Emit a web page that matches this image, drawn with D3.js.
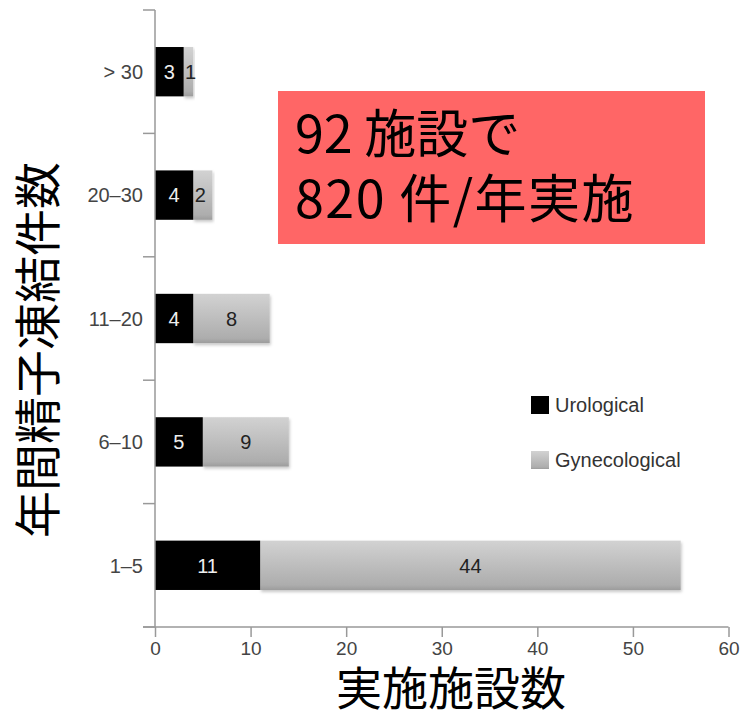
<!DOCTYPE html>
<html>
<head>
<meta charset="utf-8">
<script src="https://cdn.jsdelivr.net/npm/d3@7"></script>
<style>
  body { margin: 0; background: #fff; }
  svg { display: block; }
  .tick text { font-family: "Liberation Sans", Arial, sans-serif; }
</style>
</head>
<body>
<div id="chart"></div>
<script>
const categories = ["> 30", "20–30", "11–20", "6–10", "1–5"]
const urological = [3, 4, 4, 5, 11]
const gynecological = [1, 2, 8, 9, 44]
const seriesNames = ["Urological", "Gynecological"]
const xTicks = [0, 10, 20, 30, 40, 50, 60]

const width = 747, height = 717
const x0 = 155, x1 = 728.5, yTop = 10, yBottom = 627

const svg = d3.select("#chart").append("svg")
  .attr("width", width)
  .attr("height", height)

const defs = svg.append("defs")
const grad = defs.append("linearGradient")
  .attr("id", "gyn").attr("x1", 0).attr("y1", 0).attr("x2", 0).attr("y2", 1)
grad.append("stop").attr("offset", "0%").attr("stop-color", "#d2d2d2")
grad.append("stop").attr("offset", "90%").attr("stop-color", "#adadad")
grad.append("stop").attr("offset", "100%").attr("stop-color", "#9c9c9c")
const shadow = defs.append("filter").attr("id", "shadow")
  .attr("x", "-5%").attr("y", "-10%").attr("width", "115%").attr("height", "130%")
shadow.append("feDropShadow").attr("dx", 1).attr("dy", 2).attr("stdDeviation", 1.5)
  .attr("flood-color", "#000").attr("flood-opacity", 0.22)

const x = d3.scaleLinear().domain([0, 60]).range([x0, x1])
const y = d3.scaleBand().domain(categories).range([yTop, yBottom]).paddingInner(0.6).paddingOuter(0.3)

const rows = categories.map((c, i) => ({ cat: c, uro: urological[i], gyn: gynecological[i] }))
const labelFont = "20px 'Liberation Sans', Arial, sans-serif"

// bars
const g = svg.append("g")
g.selectAll("rect.gyn")
  .data(rows)
  .join("rect")
  .attr("class", "gyn")
  .attr("x", d => x(d.uro))
  .attr("y", d => y(d.cat))
  .attr("width", d => x(d.uro + d.gyn) - x(d.uro))
  .attr("height", y.bandwidth())
  .attr("fill", "url(#gyn)")
  .attr("filter", "url(#shadow)")
g.selectAll("rect.uro")
  .data(rows)
  .join("rect")
  .attr("class", "uro")
  .attr("x", x(0))
  .attr("y", d => y(d.cat))
  .attr("width", d => x(d.uro) - x(0))
  .attr("height", y.bandwidth())
  .attr("fill", "#000")

g.selectAll("text.uro")
  .data(rows)
  .join("text")
  .attr("x", d => (x(0) + x(d.uro)) / 2)
  .attr("y", d => y(d.cat) + y.bandwidth() / 2)
  .attr("dy", "0.36em")
  .attr("text-anchor", "middle")
  .attr("fill", "#eee")
  .style("font", labelFont)
  .text(d => d.uro)
g.selectAll("text.gyn")
  .data(rows)
  .join("text")
  .attr("x", d => d.gyn < 3 ? x(d.uro) + 7 : (x(d.uro) + x(d.uro + d.gyn)) / 2)
  .attr("y", d => y(d.cat) + y.bandwidth() / 2)
  .attr("dy", "0.36em")
  .attr("text-anchor", "middle")
  .attr("fill", "#222")
  .style("font", labelFont)
  .text(d => d.gyn)

// y axis
svg.append("line")
  .attr("x1", x0).attr("x2", x0).attr("y1", yTop).attr("y2", yBottom)
  .attr("stroke", "#999").attr("stroke-width", 1.5)
const bounds = categories.map(c => y(c) - y.step() * y.paddingInner() / 2)
bounds.push(yBottom)
svg.selectAll("line.ytick")
  .data(bounds)
  .join("line")
  .attr("x1", x0 - 12).attr("x2", x0)
  .attr("y1", d => d).attr("y2", d => d)
  .attr("stroke", "#999").attr("stroke-width", 1.5)
svg.selectAll("text.ylab")
  .data(categories)
  .join("text")
  .attr("x", x0 - 12)
  .attr("y", d => y(d) + y.bandwidth() / 2)
  .attr("dy", "0.36em")
  .attr("text-anchor", "end")
  .attr("fill", "#444")
  .style("font", labelFont)
  .text(d => d)

// x axis
const xAxis = svg.append("g")
  .attr("transform", `translate(0,${yBottom})`)
  .call(d3.axisBottom(x).tickValues(xTicks).tickSize(10).tickPadding(5))
xAxis.select(".domain").remove()
xAxis.selectAll(".tick line").attr("stroke", "#999").attr("stroke-width", 1.5)
xAxis.selectAll(".tick text").attr("fill", "#444").style("font-size", "19px")
svg.append("line")
  .attr("x1", x0 - 12).attr("x2", x1).attr("y1", yBottom).attr("y2", yBottom)
  .attr("stroke", "#999").attr("stroke-width", 1.5)

// legend
const legend = svg.append("g").attr("transform", "translate(531,396)")
legend.selectAll("rect")
  .data(seriesNames)
  .join("rect")
  .attr("x", 0)
  .attr("y", (d, i) => i * 55)
  .attr("width", 18).attr("height", 18)
  .attr("fill", (d, i) => i === 0 ? "#000" : "url(#gyn)")
legend.selectAll("text")
  .data(seriesNames)
  .join("text")
  .attr("x", 24)
  .attr("y", (d, i) => i * 55 + 9)
  .attr("dy", "0.36em")
  .attr("fill", "#333")
  .style("font", "20px 'Liberation Sans', Arial, sans-serif")
  .text(d => d)

// annotation box
svg.append("rect")
  .attr("x", 278).attr("y", 91).attr("width", 427).attr("height", 153)
  .attr("fill", "#ff6666")
const note = svg.append("text")
  .attr("fill", "#000")
  .style("font", "52px 'Noto Sans CJK JP', sans-serif")
note.append("tspan").attr("x", 295).attr("y", 153).text("92 施設で")
note.append("tspan").attr("x", 295).attr("y", 218).attr("letter-spacing", 1.5).text("820 件/年実施")

// axis titles
svg.append("text")
  .attr("transform", "translate(55,350) rotate(-90)")
  .attr("text-anchor", "middle")
  .attr("fill", "#000")
  .style("font", "47px 'Noto Sans CJK JP', sans-serif")
  .text("年間精子凍結件数")
svg.append("text")
  .attr("x", 451).attr("y", 705)
  .attr("text-anchor", "middle")
  .attr("fill", "#000")
  .style("font", "46px 'Noto Sans CJK JP', sans-serif")
  .text("実施施設数")
</script>
</body>
</html>
